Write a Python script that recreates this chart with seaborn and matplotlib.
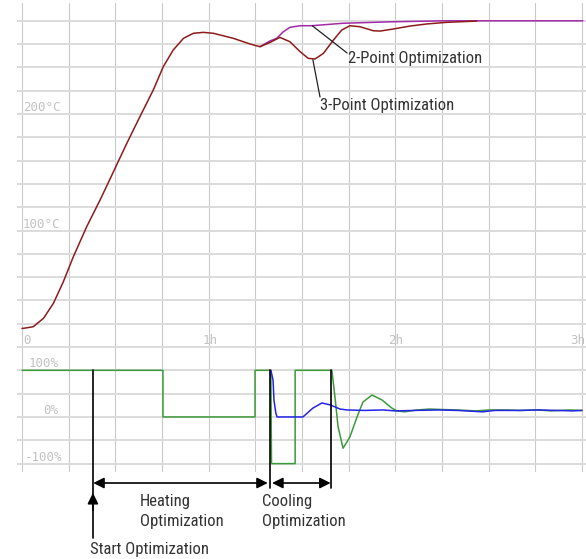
import matplotlib
matplotlib.use("Agg")
import matplotlib.pyplot as plt
from matplotlib import font_manager
import numpy as np
import pandas as pd
import seaborn as sns

# time in minutes, temperature in degC, output in %
t_3pt = [0, 0.4, 3.6, 6.9, 10.1, 13.3, 16.5, 20.8, 25.1, 29.4, 33.7, 37.9, 42.2, 45.4,
         48.6, 51.9, 55.1, 58.3, 61.5, 67.9, 73.3, 76.5, 79.7, 82.9, 86.1, 89.4, 92.0,
         94.2, 96.9, 100.1, 102.8, 105.4, 108.7, 112.9, 115.1, 119.4, 124.7, 130.1,
         136.5, 146.2]
temp_3pt = [16, 16, 17.4, 24.6, 37.5, 56.1, 77.5, 103.3, 126.2, 150.5, 174.9, 197.7,
            220.6, 240.6, 254.9, 265, 269.3, 270.1, 269.3, 265, 260.1, 257.8, 261.4,
            265.8, 262.1, 253.5, 247.8, 247.2, 252.1, 263.5, 272.1, 275.8, 274.9,
            271.5, 271.2, 273, 275.5, 277.3, 278.7, 279.8]

t_2pt = [76.5, 79.7, 81.9, 83.9, 86.1, 89.4, 93.1, 103.2, 119.3, 135.3, 180.3]
temp_2pt = [257.8, 262.7, 265, 270.4, 274.4, 275.8, 275.8, 277.9, 279.2, 280, 280]

t_out = [0, 45.3, 45.3, 74.9, 74.9, 80, 80.2, 87.8, 87.8, 99.6, 100.6, 101.6, 103.2,
         105.4, 107.7, 109.6, 112.5, 115.7, 118.9, 120.5, 123, 127, 131, 135, 140,
         146, 150, 156, 160, 166, 170, 176, 180]
out_pct = [100, 100, 0, 0, 100, 100, -100, -100, 100, 100, 43, -21, -67, -43, 0, 32,
           47, 36.5, 19, 13, 11, 15, 17, 16, 15, 13, 15, 15, 14, 15, 13, 15, 14]

t_cool = [80, 80.7, 81, 81.6, 82, 90.3, 93.5, 96.4, 99, 102.2, 104.5, 110, 116, 120,
          126, 134, 140, 148, 152, 160, 166, 172, 177, 180]
cool_pct = [100, 79, 36, 8, 0, 0, 19, 30, 26, 17, 15, 14, 15, 13, 14, 15, 14, 11, 14,
            14, 15, 14, 13, 14]

temp_ticks = [0, 100, 200]
temp_labels = ["0", "100°C", "200°C"]
time_ticks = [60.5, 120, 181.2]
time_labels = ["1h", "2h", "3h"]
pct_ticks = [100, 0, -100]
pct_labels = ["100%", "0%", "-100%"]

sns.set_style("white")
avail = {f.name for f in font_manager.fontManager.ttflist}
text_font = "DejaVu Sans"
for name in ["Liberation Sans Narrow", "Roboto Condensed", "Liberation Sans"]:
    if name in avail:
        text_font = name
        break
plt.rcParams["font.family"] = [text_font, "DejaVu Sans"]

W, H = 586, 559
fig = plt.figure(figsize=(W / 100, H / 100), dpi=100)
ax_t = fig.add_axes([17 / W, (H - 347) / H, 569 / W, 344 / H])
ax_b = fig.add_axes([17 / W, (H - 472) / H, 569 / W, 125 / H])

xmin, xmax = -1.61, 181.3
grid_h = dict(color="#dcdcdc", lw=1.4, zorder=0)
grid_v = dict(color="#c9c9c9", lw=0.8, zorder=0)

for ax in (ax_t, ax_b):
    ax.set_xlim(xmin, xmax)
    for s in ax.spines.values():
        s.set_visible(False)
    ax.set_xticks([])
    ax.set_yticks([])
    for v in np.arange(0, 181, 15):
        ax.axvline(v, **grid_v)

ax_t.set_ylim(0, 295.3)
for v in np.arange(0, 281, 20):
    ax_t.axhline(v, **grid_h)
ax_b.set_ylim(-118, 150)
for v in [150, 100, 50, 0, -50, -100]:
    ax_b.axhline(v, **grid_h)

df2 = pd.DataFrame({"t": t_2pt, "v": temp_2pt})
df3 = pd.DataFrame({"t": t_3pt, "v": temp_3pt})
sns.lineplot(data=df2, x="t", y="v", ax=ax_t, color="#a22aa8", lw=1.1,
             estimator=None, sort=False)
sns.lineplot(data=df3, x="t", y="v", ax=ax_t, color="#8e1b1b", lw=1.1,
             estimator=None, sort=False)

dfo = pd.DataFrame({"t": t_out, "v": out_pct})
dfc = pd.DataFrame({"t": t_cool, "v": cool_pct})
sns.lineplot(data=dfo, x="t", y="v", ax=ax_b, color="#3c9a3c", lw=1.1,
             estimator=None, sort=False)
sns.lineplot(data=dfc, x="t", y="v", ax=ax_b, color="#2424e8", lw=1.1,
             estimator=None, sort=False)
for ax in (ax_t, ax_b):
    ax.set_xlabel("")
    ax.set_ylabel("")

lab = dict(family="DejaVu Sans Mono", fontsize=9, color="#c2c2c2", va="bottom")
for v, s in zip(temp_ticks, temp_labels):
    ax_t.text(0.3, v, s, ha="left", **lab)
for v, s, h in zip(time_ticks, time_labels, ["center", "center", "right"]):
    ax_t.text(v, 0, s, ha=h, **lab)
pct_x = [11.8, 11.8, 13.0]
for v, s, x in zip(pct_ticks, pct_labels, pct_x):
    ax_b.text(x, v, s, ha="right", **lab)

note = dict(fontsize=12, color="#333333", clip_on=False)
ax_t.plot([93.3, 104.5], [275.8, 252.4], color="#222222", lw=0.9)
ax_t.plot([93.5, 95.8], [246.5, 214.6], color="#222222", lw=0.9)
ax_t.text(104.8, 248, "2-Point Optimization", va="center", ha="left", **note)
ax_t.text(95.8, 207.7, "3-Point Optimization", va="center", ha="left", **note)

# markers for the optimisation phases
line_k = dict(color="black", lw=1.2, clip_on=False)
ax_b.plot([22.8, 22.8], [100, -260], **line_k)
ax_b.plot([79.7, 79.7], [100, -152], **line_k)
ax_b.plot([99.3, 99.3], [100, -152], **line_k)
arr = dict(arrowstyle="<|-|>", color="black", lw=1.2, mutation_scale=16,
           shrinkA=0, shrinkB=0)
ax_b.annotate("", xy=(22.9, -141.6), xytext=(79.0, -141.6), arrowprops=arr,
              annotation_clip=False)
ax_b.annotate("", xy=(80.4, -141.6), xytext=(99.2, -141.6), arrowprops=arr,
              annotation_clip=False)
ax_b.annotate("", xy=(22.8, -163), xytext=(22.8, -200),
              arrowprops=dict(arrowstyle="-|>", color="black", lw=1.2,
                              mutation_scale=16, shrinkA=0, shrinkB=0),
              annotation_clip=False)
ax_b.text(37.9, -182, "Heating", va="center", ha="left", **note)
ax_b.text(37.9, -225, "Optimization", va="center", ha="left", **note)
ax_b.text(77.1, -182, "Cooling", va="center", ha="left", **note)
ax_b.text(77.1, -225, "Optimization", va="center", ha="left", **note)
ax_b.text(21.9, -285, "Start Optimization", va="center", ha="left", **note)

fig.savefig("out.png", dpi=100)
